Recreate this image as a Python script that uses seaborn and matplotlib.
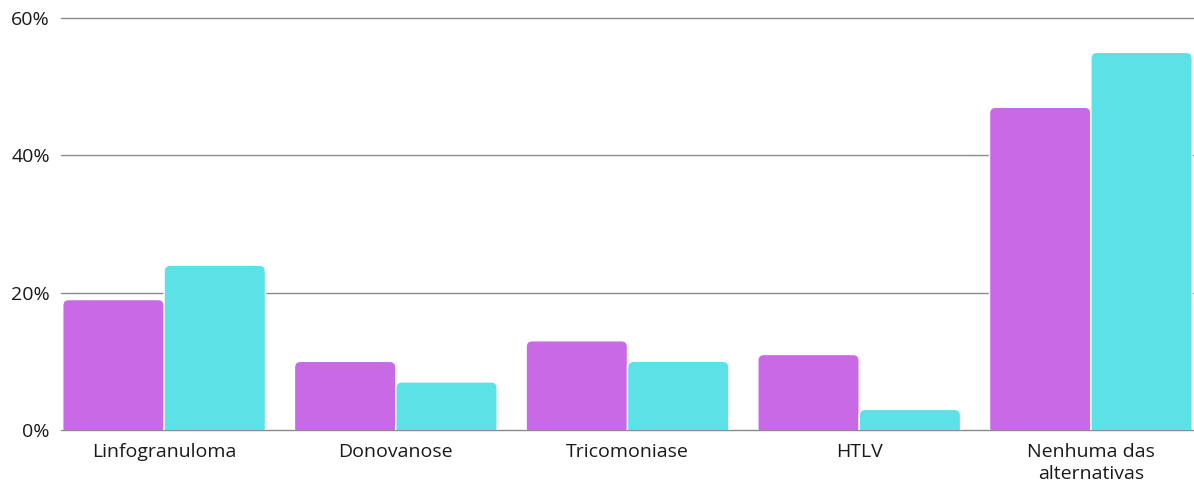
import seaborn as sns
import pandas as pd
import matplotlib.pyplot as plt
from matplotlib.patches import FancyBboxPatch
from matplotlib.ticker import PercentFormatter

categorias = ["Linfogranuloma", "Donovanose", "Tricomoniase", "HTLV", "Nenhuma das\nalternativas"]
serie_a = [19, 10, 13, 11, 47]
serie_b = [24, 7, 10, 3, 55]
series = ["Série 1", "Série 2"]
cores = ["#C86AE6", "#5CE1E6"]
yticks = [0, 20, 40, 60]

df = pd.DataFrame({
    "categoria": categorias * 2,
    "valor": serie_a + serie_b,
    "serie": [series[0]] * len(categorias) + [series[1]] * len(categorias),
})

sns.set_theme(style="white")
plt.rcParams["font.family"] = ["Open Sans", "DejaVu Sans"]

fig = plt.figure(figsize=(11.94, 4.86), dpi=100)
ax = fig.add_axes([61 / 1194, 1 - 430 / 486, 1 - 61 / 1194, (430 - 18) / 486])

ax.set_axisbelow(True)
ax.yaxis.grid(True, color="#8a8a8a", linewidth=1)

sns.barplot(data=df, x="categoria", y="valor", hue="serie", palette=cores,
            width=0.875, gap=0, saturation=1, legend=False, ax=ax,
            edgecolor="white", linewidth=1)

ax.set_xlim(-0.445, 4.445)
ax.set_ylim(0, 60)
ax.set_yticks(yticks)
ax.yaxis.set_major_formatter(PercentFormatter(decimals=0))
for gl in ax.get_ygridlines():
    gl.set_clip_on(False)

# rounded top corners on the bars
fig.canvas.draw()
px_x = ax.transData.transform((1, 0))[0] - ax.transData.transform((0, 0))[0]
px_y = ax.transData.transform((0, 1))[1] - ax.transData.transform((0, 0))[1]
r_px = 6
r_x = r_px / px_x
for p in list(ax.patches):
    x, y = p.get_x(), p.get_y()
    w, h = p.get_width(), p.get_height()
    fc = p.get_facecolor()
    p.remove()
    pad_y = r_px / px_y
    box = FancyBboxPatch((x + r_x, y - pad_y), w - 2 * r_x, h,
                         boxstyle=f"round,pad={r_x},rounding_size={r_x}",
                         mutation_aspect=px_x / px_y,
                         facecolor=fc, edgecolor="white", linewidth=1, zorder=2)
    ax.add_patch(box)

for s in ax.spines.values():
    s.set_visible(False)
ax.set_xlabel("")
ax.set_ylabel("")
ax.tick_params(axis="y", length=0, pad=8, labelsize=14, labelcolor="#1a1a1a")
ax.tick_params(axis="x", length=0, pad=9, labelsize=14, labelcolor="#1a1a1a")
for t in ax.get_xticklabels():
    t.set_linespacing(1.3)

fig.savefig("out.png", dpi=100)
